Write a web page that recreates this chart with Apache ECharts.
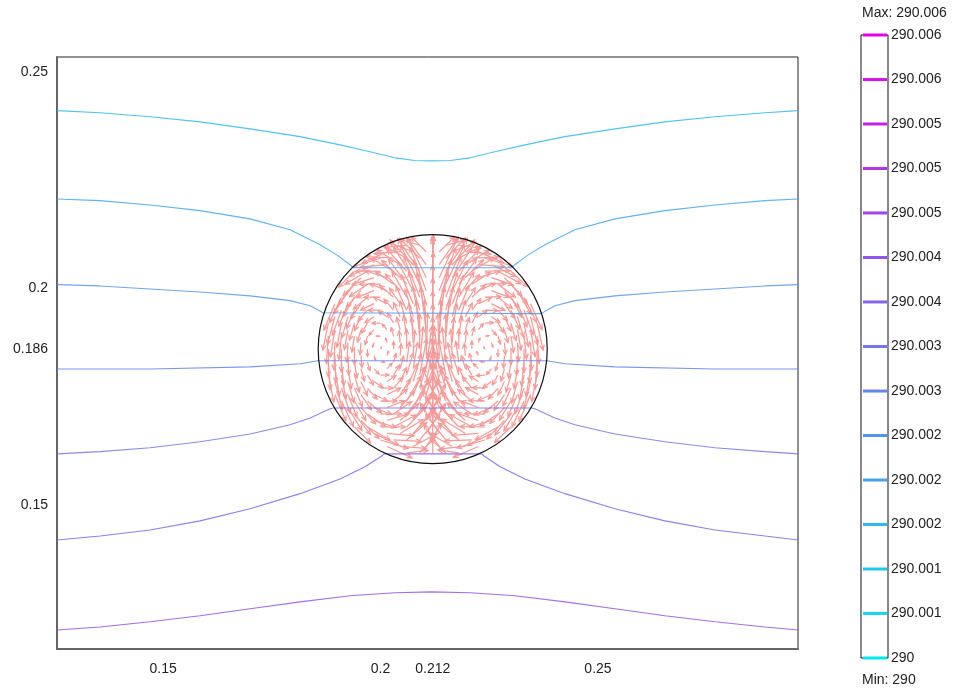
<!DOCTYPE html>
<html>
<head>
<meta charset="utf-8">
<script src="https://cdn.jsdelivr.net/npm/echarts@6/dist/echarts.min.js"></script>
<style>
  html, body { margin: 0; padding: 0; background: #ffffff; }
  #chart { width: 953px; height: 690px; }
</style>
</head>
<body>
<div id="chart"></div>
<script>
// ---- Temperature colour scale (K) ----
const tempMin = 290;
const tempMax = 290.006;
const scaleLevels = [290, 290.000429, 290.000857, 290.001286, 290.001714, 290.002143, 290.002571,
  290.003, 290.003429, 290.003857, 290.004286, 290.004714, 290.005143, 290.005571, 290.006];
const scaleLabels = ['290', '290.001', '290.001', '290.002', '290.002', '290.002', '290.003',
  '290.003', '290.004', '290.004', '290.005', '290.005', '290.005', '290.006', '290.006'];

// ---- Axis ticks (m) ----
const xTicks = [0.15, 0.2, 0.212, 0.25];
const yTicks = [0.15, 0.186, 0.2, 0.25];

// ---- Isotherms: temperature and [x, y] points (m) ----
const isoLevels = [290.0012, 290.00165, 290.0021, 290.00255, 290.003, 290.00345, 290.0039];
const iso1 = [[0.1256,0.2411],[0.1355,0.2406],[0.1470,0.2397],[0.1585,0.2385],[0.1700,0.2369],[0.1815,0.2351],
  [0.1907,0.2332],[0.1976,0.2316],[0.2033,0.2302],[0.2079,0.2296],[0.2118,0.2295],[0.2160,0.2296],[0.2206,0.2302],
  [0.2263,0.2316],[0.2332,0.2332],[0.2424,0.2351],[0.2539,0.2369],[0.2654,0.2385],[0.2769,0.2397],[0.2884,0.2406],[0.2960,0.2411]];
const iso2 = [[0.1256,0.2207],[0.1355,0.2203],[0.1470,0.2193],[0.1585,0.2180],[0.1700,0.2161],[0.1792,0.2136],
  [0.1815,0.2124],[0.1861,0.2101],[0.1902,0.2076],[0.1930,0.2055],[0.1937,0.2048],[0.2302,0.2048],[0.2309,0.2055],
  [0.2337,0.2076],[0.2378,0.2101],[0.2424,0.2124],[0.2447,0.2136],[0.2539,0.2161],[0.2654,0.2180],[0.2769,0.2193],
  [0.2884,0.2203],[0.2960,0.2207]];
const iso3 = [[0.1256,0.2009],[0.1355,0.2006],[0.1470,0.1999],[0.1585,0.1992],[0.1700,0.1983],[0.1792,0.1972],
  [0.1838,0.1960],[0.1868,0.1944],[0.1870,0.1942],[0.2369,0.1942],[0.2371,0.1944],[0.2401,0.1960],[0.2447,0.1972],
  [0.2539,0.1983],[0.2654,0.1992],[0.2769,0.1999],[0.2884,0.2006],[0.2960,0.2009]];
const iso4 = [[0.1256,0.1814],[0.1470,0.1814],[0.1700,0.1819],[0.1815,0.1826],[0.1856,0.1833],[0.2383,0.1833],
  [0.2424,0.1826],[0.2539,0.1819],[0.2769,0.1814],[0.2960,0.1814]];
const iso5 = [[0.1256,0.1618],[0.1355,0.1623],[0.1470,0.1632],[0.1585,0.1646],[0.1700,0.1664],[0.1792,0.1685],
  [0.1838,0.1701],[0.1884,0.1722],[0.1891,0.1724],[0.2348,0.1724],[0.2355,0.1722],[0.2401,0.1701],[0.2447,0.1685],
  [0.2539,0.1664],[0.2654,0.1646],[0.2769,0.1632],[0.2884,0.1623],[0.2960,0.1618]];
const iso6 = [[0.1256,0.1419],[0.1355,0.1428],[0.1470,0.1442],[0.1585,0.1463],[0.1700,0.1491],[0.1815,0.1526],
  [0.1907,0.1560],[0.1964,0.1588],[0.2003,0.1613],[0.2008,0.1618],[0.2233,0.1618],[0.2238,0.1613],[0.2275,0.1588],
  [0.2332,0.1560],[0.2424,0.1526],[0.2539,0.1491],[0.2654,0.1463],[0.2769,0.1442],[0.2884,0.1428],[0.2960,0.1419]];
const iso7 = [[0.1256,0.1211],[0.1355,0.1218],[0.1470,0.1230],[0.1585,0.1244],[0.1700,0.1260],[0.1815,0.1276],
  [0.1930,0.1290],[0.2033,0.1297],[0.2118,0.1299],[0.2206,0.1297],[0.2309,0.1290],[0.2424,0.1276],[0.2539,0.1260],
  [0.2654,0.1244],[0.2769,0.1230],[0.2884,0.1218],[0.2960,0.1211]];

// ---- Cylinder: centre x, centre y, radius (m) ----
const cylinder = [0.212, 0.186, 0.0264];

// ---- Velocity nodes inside the cylinder (two interleaved node sets) ----
const gridX = [0.188, 0.191, 0.194, 0.197, 0.200, 0.203, 0.206, 0.209, 0.212,
  0.215, 0.218, 0.221, 0.224, 0.227, 0.230, 0.233, 0.236];
const gridY = [0.210, 0.207, 0.204, 0.201, 0.198, 0.195, 0.192, 0.189, 0.186,
  0.183, 0.180, 0.177, 0.174, 0.171, 0.168, 0.165, 0.162];
const gridX2 = [0.1895, 0.1925, 0.1955, 0.1985, 0.2015, 0.2045, 0.2075, 0.2105,
  0.2135, 0.2165, 0.2195, 0.2225, 0.2255, 0.2285, 0.2315, 0.2345];
const gridY2 = [0.2085, 0.2055, 0.2025, 0.1995, 0.1965, 0.1935, 0.1905, 0.1875,
  0.1845, 0.1815, 0.1785, 0.1755, 0.1725, 0.1695, 0.1665, 0.1635];

// Each row (top to bottom) holds [u, v] in mm/s for the nodes of that row that
// lie inside the cylinder, centred on x = 0.212.
const velocityRows = [
  [[-4.5,-0.5],[-4.0,1.2],[0.0,2.0],[4.1,1.1],[4.4,-0.6]],
  [[-5.5,-1.7],[-5.5,0.3],[-4.5,2.5],[-4.0,4.0],[0.2,4.5],[3.9,4.1],[4.4,2.4],[5.4,0.2],[5.6,-1.6]],
  [[-3.2,-3.2],[-4.5,-2.6],[-5.0,0.0],[-4.5,2.6],[-3.9,4.4],[-4.4,6.5],[0.0,7.0],[4.3,6.6],[4.0,4.3],[4.4,2.7],[5.1,0.1],[4.6,-2.5],[3.3,-3.1]],
  [[-3.2,-4.1],[-3.6,-2.5],[-4.2,0.0],[-3.6,2.5],[-3.6,5.0],[-3.8,7.8],[0.0,9.0],[3.7,7.9],[3.5,5.1],[3.7,2.4],[4.1,0.1],[3.5,-2.6],[3.3,-4.0]],
  [[-2.4,-5.1],[-2.3,-3.9],[-2.8,-2.4],[-3.3,0.0],[-2.8,2.4],[-2.9,5.1],[-3.1,8.0],[0.1,9.0],[3.0,8.1],[3.0,5.0],[2.7,2.5],[3.2,0.1],[2.9,-2.3],[2.2,-4.0],[2.5,-5.0]],
  [[-1.8,-5.0],[-1.6,-3.7],[-1.9,-2.2],[-2.5,0.0],[-1.9,2.2],[-2.1,4.8],[-2.2,7.6],[0.0,9.0],[2.3,7.5],[2.0,4.9],[1.8,2.3],[2.6,-0.1],[1.9,-2.1],[1.7,-3.8],[1.8,-4.9]],
  [[-1.1,-5.4],[-0.9,-4.8],[-1.0,-3.4],[-1.2,-2.0],[-1.7,0.0],[-1.2,2.0],[-1.3,4.4],[-1.4,7.3],[0.0,9.0],[1.5,7.2],[1.3,4.5],[1.1,2.1],[1.7,0.1],[1.2,-1.9],[1.0,-3.5],[0.9,-4.7],[1.2,-5.4]],
  [[-0.4,-5.5],[-0.5,-4.7],[-0.5,-3.2],[-0.5,-1.7],[-0.8,0.0],[-0.5,1.7],[-0.6,4.1],[-0.7,7.0],[0.0,9.0],[0.7,7.1],[0.6,4.0],[0.5,1.8],[0.8,0.1],[0.5,-1.6],[0.5,-3.3],[0.5,-4.6],[0.4,-5.5]],
  [[0.0,-5.5],[0.0,-4.6],[0.0,-3.1],[0.0,-1.5],[0.2,0.4],[0.0,1.5],[0.0,4.0],[0.0,7.0],[0.0,9.0],[0.0,7.0],[0.0,4.0],[0.0,1.6],[-0.2,0.4],[0.0,-1.5],[0.0,-3.1],[0.0,-4.7],[0.0,-5.5]],
  [[0.4,-5.5],[0.5,-4.7],[0.5,-3.2],[0.5,-1.7],[0.8,0.0],[0.5,1.7],[0.6,4.1],[0.7,7.0],[0.0,9.0],[-0.7,6.9],[-0.6,4.1],[-0.5,1.7],[-0.8,0.1],[-0.5,-1.7],[-0.5,-3.2],[-0.5,-4.8],[-0.4,-5.4]],
  [[1.1,-5.4],[0.9,-4.8],[1.0,-3.4],[1.2,-2.0],[1.7,0.0],[1.2,2.0],[1.3,4.4],[1.4,7.3],[0.0,8.8],[-1.4,7.2],[-1.3,4.3],[-1.2,2.1],[-1.7,-0.1],[-1.1,-2.0],[-1.0,-3.4],[-0.9,-4.9],[-1.1,-5.3]],
  [[1.8,-5.0],[1.6,-3.7],[1.9,-2.2],[2.5,0.0],[1.9,2.2],[2.1,4.8],[2.2,7.4],[0.0,8.5],[-2.2,7.3],[-2.0,4.7],[-1.9,2.3],[-2.5,0.1],[-1.9,-2.2],[-1.6,-3.6],[-1.8,-5.1]],
  [[2.4,-5.1],[2.3,-3.9],[2.8,-2.4],[3.3,0.0],[2.8,2.4],[2.9,5.0],[3.1,7.5],[0.0,8.0],[-3.0,7.4],[-2.9,5.1],[-2.8,2.3],[-3.2,0.1],[-2.8,-2.4],[-2.3,-3.8],[-2.4,-5.2]],
  [[3.2,-4.1],[3.6,-2.5],[4.2,0.0],[3.6,2.5],[3.6,4.6],[3.8,6.8],[0.0,7.5],[-3.7,6.9],[-3.5,4.5],[-3.6,2.4],[-4.1,0.1],[-3.6,-2.4],[-3.2,-4.2]],
  [[3.2,-3.2],[4.5,-2.6],[5.0,0.0],[4.5,2.4],[3.9,4.0],[4.2,6.0],[0.0,6.5],[-4.1,6.1],[-3.8,4.1],[-4.4,2.5],[-5.0,0.1],[-4.5,-2.5],[-3.3,-3.1]],
  [[5.5,-1.7],[5.5,-0.3],[4.0,3.5],[4.0,5.0],[0.0,5.5],[-4.0,5.1],[-4.1,3.4],[-5.4,-0.2],[-5.6,-1.6]],
  [[4.3,0.5],[3.0,3.0],[0.0,4.0],[-3.1,2.9],[-4.2,0.6]]
];
const velocityRows2 = [
  [[-5.0,-2.3],[-5.2,-0.4],[-4.8,1.8],[-3.0,3.0],[3.1,3.0],[4.7,1.9],[5.1,-0.5],[5.0,-2.2]],
  [[-4.9,-2.3],[-5.4,-0.5],[-4.6,3.0],[-4.6,5.0],[-3.9,5.5],[3.8,5.5],[4.5,5.0],[4.7,2.9],[5.3,-0.4],[4.9,-2.4]],
  [[-3.6,-3.6],[-4.4,-1.4],[-4.4,1.4],[-3.7,3.5],[-3.9,6.1],[-3.8,8.0],[3.7,8.0],[3.9,6.0],[3.6,3.6],[4.3,1.3],[4.4,-1.5],[3.5,-3.7]],
  [[-2.8,-4.6],[-2.9,-3.3],[-3.5,-1.4],[-3.5,1.4],[-2.9,3.3],[-3.1,5.9],[-3.2,8.6],[3.3,8.5],[3.0,6.0],[2.8,3.2],[3.4,1.5],[3.5,-1.3],[2.9,-3.4],[2.7,-4.7]],
  [[-2.2,-5.3],[-1.8,-4.5],[-2.1,-3.1],[-2.7,-1.3],[-2.7,1.3],[-2.1,3.1],[-2.4,5.8],[-2.5,8.7],[2.4,8.8],[2.3,5.7],[2.0,3.2],[2.6,1.2],[2.7,-1.4],[2.1,-3.0],[1.9,-4.6],[2.3,-5.2]],
  [[-1.5,-5.6],[-1.2,-4.2],[-1.3,-2.8],[-1.8,-1.2],[-1.8,1.2],[-1.3,2.8],[-1.6,5.5],[-1.8,8.8],[1.7,8.9],[1.5,5.6],[1.4,2.7],[1.8,1.3],[1.7,-1.2],[1.3,-2.9],[1.2,-4.1],[1.4,-5.7]],
  [[-0.9,-5.5],[-0.7,-4.0],[-0.7,-2.5],[-1.0,-1.1],[-1.0,1.1],[-0.7,2.5],[-0.9,5.2],[-1.1,8.5],[1.0,8.6],[0.9,5.1],[0.8,2.4],[1.0,1.2],[1.0,-1.1],[0.7,-2.6],[0.7,-4.1],[0.9,-5.4]],
  [[-0.2,-5.4],[-0.2,-3.9],[-0.2,-2.4],[-0.3,-0.9],[-0.3,0.9],[-0.2,2.4],[-0.3,5.1],[-0.3,8.4],[0.3,8.5],[0.3,5.0],[0.2,2.5],[0.3,0.9],[0.3,-0.9],[0.2,-2.4],[0.2,-3.8],[0.2,-5.5]],
  [[0.2,-5.4],[0.2,-3.9],[0.2,-2.4],[0.3,-0.9],[0.3,0.9],[0.2,2.4],[0.3,5.1],[0.3,8.4],[-0.3,8.3],[-0.3,5.2],[-0.2,2.4],[-0.3,0.8],[-0.3,-0.9],[-0.2,-2.5],[-0.2,-3.9],[-0.2,-5.4]],
  [[0.9,-5.5],[0.7,-4.0],[0.7,-2.5],[1.0,-1.1],[1.0,1.1],[0.7,2.5],[0.9,5.2],[1.1,8.4],[-1.0,8.5],[-0.9,5.1],[-0.8,2.6],[-1.0,1.0],[-1.0,-1.2],[-0.7,-2.5],[-0.7,-4.0],[-0.9,-5.6]],
  [[1.5,-5.6],[1.2,-4.2],[1.3,-2.8],[1.8,-1.2],[1.8,1.2],[1.3,2.8],[1.6,5.5],[1.8,8.5],[-1.7,8.6],[-1.5,5.4],[-1.4,2.9],[-1.8,1.1],[-1.7,-1.3],[-1.3,-2.7],[-1.2,-4.3],[-1.4,-5.5]],
  [[2.2,-5.3],[1.8,-4.5],[2.1,-3.1],[2.7,-1.3],[2.7,1.3],[2.1,3.1],[2.4,5.6],[2.5,8.2],[-2.4,8.3],[-2.3,5.7],[-2.0,3.0],[-2.6,1.4],[-2.7,-1.2],[-2.1,-3.2],[-1.9,-4.4],[-2.3,-5.4]],
  [[2.8,-4.6],[2.9,-3.3],[3.5,-1.4],[3.5,1.4],[2.9,3.3],[3.1,5.7],[3.2,7.8],[-3.3,7.9],[-3.0,5.6],[-2.8,3.4],[-3.4,1.3],[-3.5,-1.5],[-2.9,-3.2],[-2.7,-4.7]],
  [[3.6,-3.6],[4.4,-1.4],[4.4,1.4],[3.7,3.4],[3.9,5.6],[3.8,7.2],[-3.7,7.3],[-3.9,5.5],[-3.6,3.5],[-4.3,1.5],[-4.4,-1.3],[-3.5,-3.7]],
  [[4.9,-2.3],[5.4,-0.5],[4.6,2.8],[4.6,5.2],[3.9,6.0],[-3.8,6.1],[-4.5,5.1],[-4.7,2.9],[-5.3,-0.4],[-4.9,-2.4]],
  [[5.0,-2.3],[5.2,-0.4],[4.8,2.6],[3.0,4.5],[-3.1,4.4],[-4.7,2.7],[-5.1,-0.5],[-5.0,-2.2]]
];

// ---- Drawing ----
const FONT = '"Liberation Sans", Arial, sans-serif';
const colorStops = ['#00e8f0', '#e800e8'];
function tempColor(t) {
  return echarts.color.lerp((t - tempMin) / (tempMax - tempMin), colorStops);
}
const ARROW_SCALE = 0.00115;   // metres of arrow per mm/s

const arrowData = [];
function addNodes(xs, ys, rows) {
  rows.forEach(function (row, r) {
    const offset = (xs.length - row.length) / 2;
    row.forEach(function (vec, k) {
      arrowData.push([xs[offset + k], ys[r], vec[0], vec[1]]);
    });
  });
}
addNodes(gridX, gridY, velocityRows);
addNodes(gridX2, gridY2, velocityRows2);

function renderArrow(params, api) {
  const x = api.value(0), y = api.value(1), u = api.value(2), v = api.value(3);
  const p0 = api.coord([x, y]);
  const p1 = api.coord([x + u * ARROW_SCALE, y + v * ARROW_SCALE]);
  const dx = p1[0] - p0[0], dy = p1[1] - p0[1];
  const len = Math.sqrt(dx * dx + dy * dy);
  if (len < 0.5) return null;
  const ux = dx / len, uy = dy / len;
  const h = Math.min(5, len * 0.45), w = h * 0.45;
  const style = { stroke: '#f59a98', lineWidth: 1.25, fill: null };
  return {
    type: 'group',
    children: [
      { type: 'line', shape: { x1: p0[0], y1: p0[1], x2: p1[0], y2: p1[1] }, style: style },
      { type: 'polyline', shape: { points: [
          [p1[0] - ux * h - uy * w, p1[1] - uy * h + ux * w],
          [p1[0], p1[1]],
          [p1[0] - ux * h + uy * w, p1[1] - uy * h - ux * w]] }, style: style }
    ]
  };
}

function renderCylinder(params, api) {
  const c = api.coord([api.value(0), api.value(1)]);
  const s = api.size([api.value(2), api.value(2)]);
  return {
    type: 'circle',
    shape: { cx: c[0], cy: c[1], r: (s[0] + s[1]) / 2 },
    style: { stroke: '#111111', lineWidth: 1.2, fill: null }
  };
}

function renderScaleTick(params, api) {
  const cs = params.coordSys;
  const p = api.coord([0, api.value(1)]);
  const idx = api.value(2);
  return {
    type: 'group',
    children: [
      { type: 'rect', shape: { x: cs.x + 2, y: p[1] - 1.5, width: cs.width - 3, height: 3 },
        style: { fill: tempColor(api.value(1)) } },
      { type: 'text', x: cs.x + cs.width + 3, y: p[1],
        style: { text: scaleLabels[idx], fill: '#222222', font: '14px ' + FONT,
                 textAlign: 'left', textVerticalAlign: 'middle' } }
    ]
  };
}

const isoSets = [iso1, iso2, iso3, iso4, iso5, iso6, iso7];
const isoSeries = isoSets.map(function (pts, k) {
  return {
    type: 'line', xAxisIndex: 0, yAxisIndex: 0, data: pts,
    showSymbol: false, smooth: false, silent: true, z: 3,
    lineStyle: { color: tempColor(isoLevels[k]), width: 1.1, opacity: 0.85 }
  };
});

const chart = echarts.init(document.getElementById('chart'), null, { renderer: 'canvas' });
chart.setOption({
  animation: false,
  backgroundColor: '#ffffff',
  textStyle: { fontFamily: FONT },
  grid: [
    { left: 57, top: 57, right: 155, bottom: 41, show: true, borderColor: '#222222', borderWidth: 1,
      backgroundColor: 'transparent' },
    { left: 861, top: 35, width: 27, height: 623, show: true, borderColor: '#111111', borderWidth: 1,
      backgroundColor: 'transparent' }
  ],
  xAxis: [
    { type: 'value', gridIndex: 0, min: 0.1256, max: 0.2960,
      axisLine: { show: true, onZero: false, lineStyle: { color: '#666666', width: 2 } },
      axisTick: { show: false }, splitLine: { show: false },
      axisLabel: { customValues: xTicks, color: '#222222', fontSize: 14, margin: 13, fontFamily: FONT } },
    { type: 'value', gridIndex: 1, min: 0, max: 1, show: false }
  ],
  yAxis: [
    { type: 'value', gridIndex: 0, min: 0.1167, max: 0.2535,
      axisLine: { show: true, onZero: false, lineStyle: { color: '#666666', width: 2 } },
      axisTick: { show: false }, splitLine: { show: false },
      axisLabel: { customValues: yTicks, color: '#222222', fontSize: 14, margin: 9, fontFamily: FONT } },
    { type: 'value', gridIndex: 1, min: tempMin, max: tempMax, show: false }
  ],
  graphic: [
    { type: 'text', left: 862, top: 6,
      style: { text: 'Max: ' + tempMax, fill: '#222222', font: '14px ' + FONT } },
    { type: 'text', left: 862, top: 673,
      style: { text: 'Min: ' + tempMin, fill: '#222222', font: '14px ' + FONT } }
  ],
  series: [
    { type: 'custom', xAxisIndex: 0, yAxisIndex: 0, data: arrowData, renderItem: renderArrow, silent: true, z: 2 }
  ].concat(isoSeries).concat([
    { type: 'custom', xAxisIndex: 0, yAxisIndex: 0, data: [cylinder], renderItem: renderCylinder, silent: true, z: 4 },
    { type: 'custom', xAxisIndex: 1, yAxisIndex: 1, silent: true, z: 5,
      data: scaleLevels.map(function (t, k) { return [0, t, k]; }), renderItem: renderScaleTick }
  ])
});
</script>
</body>
</html>
